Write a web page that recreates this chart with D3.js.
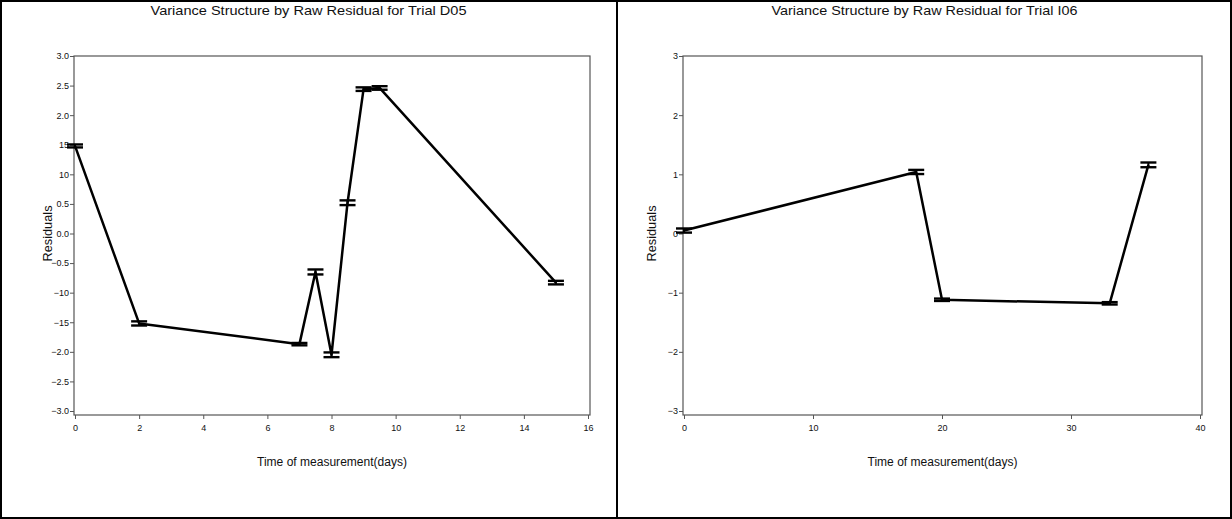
<!DOCTYPE html>
<html>
<head>
<meta charset="utf-8">
<script src="https://cdn.jsdelivr.net/npm/d3@7"></script>
<style>
  html, body { margin: 0; padding: 0; background: #fff; }
  svg { display: block; }
  text { font-family: "Liberation Sans Narrow", "Arial Narrow", "Liberation Sans", Arial, sans-serif; fill: #111; }
</style>
</head>
<body>
<svg id="chart" width="1232" height="519"></svg>
<script>
// Trial D05 residuals by measurement day
const daysD05      = [0, 2, 7, 7.5, 8, 8.5, 9, 9.5, 15];
const residualsD05 = [1.48, -1.52, -1.87, -0.65, -2.05, 0.52, 2.44, 2.46, -0.83];
const spreadD05    = [0.025, 0.035, 0.02, 0.042, 0.04, 0.04, 0.03, 0.03, 0.03];

// Trial I06 residuals by measurement day
const daysI06      = [0, 18, 20, 33, 36];
const residualsI06 = [0.05, 1.04, -1.12, -1.18, 1.16];
const spreadI06    = [0.035, 0.035, 0.02, 0.02, 0.04];

// Axis tick values and labels
const xTicksD05 = [0, 2, 4, 6, 8, 10, 12, 14, 16];
const yTicksD05 = [-3, -2.5, -2, -1.5, -1, -0.5, 0, 0.5, 1, 1.5, 2, 2.5, 3];
const yLabelsD05 = ["\u22123.0", "\u22122.5", "\u22122.0", "\u221215", "\u221210", "\u22120.5", "0.0", "0.5", "10", "15", "2.0", "2.5", "3.0"];
const xTicksI06 = [0, 10, 20, 30, 40];
const yTicksI06 = [-3, -2, -1, 0, 1, 2, 3];
const yLabelsI06 = ["\u22123", "\u22122", "\u22121", "0", "1", "2", "3"];

const titles = [
  "Variance Structure by Raw Residual for Trial D05",
  "Variance Structure by Raw Residual for Trial I06"
];
const xTitle = "Time of measurement(days)";
const yTitle = "Residuals";

const W = 1232, H = 519;
const svg = d3.select("#chart");

// outer border and panel divider
svg.append("rect").attr("x", 1).attr("y", 1).attr("width", W - 2).attr("height", H - 2)
  .attr("fill", "none").attr("stroke", "#000").attr("stroke-width", 2);
svg.append("line").attr("x1", 617).attr("x2", 617).attr("y1", 0).attr("y2", H)
  .attr("stroke", "#000").attr("stroke-width", 2);

const panels = [
  { x0: 0, x1: 617, title: titles[0], titleLen: 316, days: daysD05, res: residualsD05, spread: spreadD05,
    xDomain: [0, 16], xTicks: xTicksD05, yTicks: yTicksD05, yLabels: yLabelsD05,
    frameL: 74, frameR: 590, xr: [75, 588], yTitleX: 48 },
  { x0: 617, x1: 1232, title: titles[1], titleLen: 306, days: daysI06, res: residualsI06, spread: spreadI06,
    xDomain: [0, 40], xTicks: xTicksI06, yTicks: yTicksI06, yLabels: yLabelsI06,
    frameL: 683, frameR: 1202, xr: [684, 1200], yTitleX: 652 }
];

const yTop = 56, yBot = 411;
const tickFont = '"Liberation Sans Narrow", "Liberation Sans", Arial, sans-serif';

panels.forEach(p => {
  const g = svg.append("g");
  const x = d3.scaleLinear().domain(p.xDomain).range(p.xr);
  const y = d3.scaleLinear().domain([-3, 3]).range([yBot, yTop]);
  const frameB = yBot + 4;

  // title
  g.append("text")
    .attr("x", (p.x0 + p.x1) / 2).attr("y", 15)
    .attr("text-anchor", "middle")
    .attr("font-size", 13)
    .attr("textLength", p.titleLen).attr("lengthAdjust", "spacingAndGlyphs")
    .text(p.title);

  // plot frame
  g.append("rect")
    .attr("x", p.frameL).attr("y", yTop)
    .attr("width", p.frameR - p.frameL).attr("height", frameB - yTop)
    .attr("fill", "none").attr("stroke", "#555").attr("stroke-width", 1.2);

  // y axis
  const yAxis = d3.axisLeft(y).tickValues(p.yTicks).tickSize(4)
    .tickFormat((d, i) => p.yLabels[i]);
  const ya = g.append("g").attr("transform", `translate(${p.frameL},0)`).call(yAxis);
  ya.select(".domain").remove();
  ya.selectAll(".tick line").attr("stroke", "#555");
  ya.selectAll(".tick text").attr("font-size", 9).attr("x", -5).attr("fill", "#111")
    .style("font-family", tickFont);

  // x axis
  const xAxis = d3.axisBottom(x).tickValues(p.xTicks).tickSize(4).tickFormat(d3.format("d"));
  const xa = g.append("g").attr("transform", `translate(0,${frameB})`).call(xAxis);
  xa.select(".domain").remove();
  xa.selectAll(".tick line").attr("stroke", "#555");
  xa.selectAll(".tick text").attr("font-size", 9).attr("y", 10).attr("fill", "#111")
    .style("font-family", tickFont);

  // axis titles
  g.append("text")
    .attr("x", (p.frameL + p.frameR) / 2).attr("y", 466)
    .attr("text-anchor", "middle").attr("font-size", 12)
    .attr("textLength", 150).attr("lengthAdjust", "spacingAndGlyphs")
    .text(xTitle);
  g.append("text")
    .attr("transform", `translate(${p.yTitleX},${y(0)}) rotate(-90)`)
    .attr("text-anchor", "middle").attr("dy", "0.35em").attr("font-size", 12)
    .attr("textLength", 56).attr("lengthAdjust", "spacingAndGlyphs")
    .text(yTitle);

  // line joining the residuals in time order
  const pts = p.days.map((d, i) => ({ d, v: p.res[i], s: p.spread[i] }));
  const line = d3.line().x(q => x(q.d)).y(q => y(q.v));
  g.append("path").datum(pts).attr("d", line)
    .attr("fill", "none").attr("stroke", "#000").attr("stroke-width", 2.5)
    .attr("stroke-linejoin", "round");

  // high/low bars at each measurement
  const bars = g.selectAll(".bar").data(pts).enter().append("g").attr("class", "bar");
  bars.append("line")
    .attr("x1", q => x(q.d)).attr("x2", q => x(q.d))
    .attr("y1", q => y(q.v + q.s)).attr("y2", q => y(q.v - q.s))
    .attr("stroke", "#000").attr("stroke-width", 2);
  [1, -1].forEach(sign => {
    bars.append("line")
      .attr("x1", q => x(q.d) - 8).attr("x2", q => x(q.d) + 8)
      .attr("y1", q => y(q.v + sign * q.s)).attr("y2", q => y(q.v + sign * q.s))
      .attr("stroke", "#000").attr("stroke-width", 2.4);
  });
});
</script>
</body>
</html>
